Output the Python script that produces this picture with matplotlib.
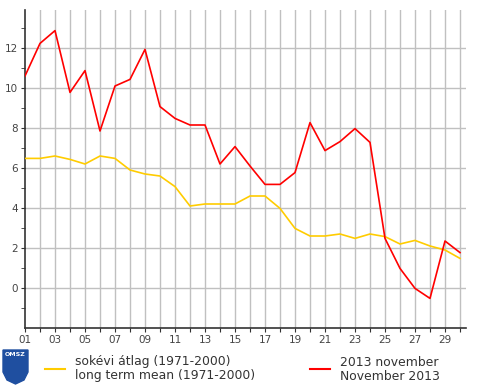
import matplotlib
matplotlib.use('Agg')
import matplotlib.pyplot as plt
from matplotlib.patches import Polygon
import numpy as np

days = list(range(1, 31))
day_labels = ['%02d' % d for d in days]

# 2013 november daily values
nov_2013 = [10.6, 12.23, 12.87, 9.78, 10.87, 7.85, 10.1, 10.43, 11.93, 9.07,
            8.48, 8.15, 8.15, 6.2, 7.07, 6.1, 5.18, 5.18, 5.77, 8.27,
            6.87, 7.32, 7.97, 7.28, 2.48, 0.98, -0.02, -0.52, 2.35, 1.77]
# long term mean 1971-2000
mean_7100 = [6.48, 6.48, 6.6, 6.43, 6.2, 6.6, 6.48, 5.9, 5.7, 5.6,
             5.07, 4.1, 4.2, 4.2, 4.2, 4.6, 4.6, 3.98, 2.98, 2.6,
             2.6, 2.7, 2.48, 2.7, 2.57, 2.2, 2.38, 2.1, 1.9, 1.48]

W, H = 490, 388
fig = plt.figure(figsize=(W/100, H/100), dpi=100)
ax = fig.add_axes([25/W, 1-328/H, (466-25)/W, (328-10)/H])

grid_c = '#c0c0c0'
ax.plot(days, mean_7100, color='#ffcc00', linewidth=1.2, zorder=3)
ax.plot(days, nov_2013, color='#ff0000', linewidth=1.2, zorder=4)

ax.set_xlim(1, 30.4)
ax.set_ylim(-2, 13.9)

ax.set_xticks(days)
ax.set_xticklabels([l if d % 2 == 1 else '' for d, l in zip(days, day_labels)])
ax.set_yticks([0, 2, 4, 6, 8, 10, 12])
ax.set_yticks(np.arange(-1, 14, 2), minor=True)

for d in days[1:]:
    ax.axvline(d, color=grid_c, linewidth=1, zorder=1)
for v in [0, 2, 4, 6, 8, 10, 12]:
    ax.axhline(v, color=grid_c, linewidth=1, zorder=1)

for s in ['top', 'right']:
    ax.spines[s].set_visible(False)
for s in ['left', 'bottom']:
    ax.spines[s].set_color('#333333')
    ax.spines[s].set_linewidth(1.2)

ax.tick_params(axis='both', which='both', direction='out', length=3,
               color='#333333', labelsize=7.5, labelcolor='#444444', pad=2)

# logo (shield, pixel coords from the top-left)
pts = [[3, 350], [28, 350], [28, 372], [24, 380], [15.5, 384], [7, 380], [3, 372]]
shield = Polygon([[x/W, 1-y/H] for x, y in pts], closed=True,
                 transform=fig.transFigure, facecolor='#1f4fa0',
                 edgecolor='#1f4fa0')
fig.patches.append(shield)
fig.text(15.5/W, 1-355/H, 'OMSZ', color='white', fontsize=4.5,
         fontweight='bold', ha='center', va='center')

# legend
fig.lines.append(plt.Line2D([45/W, 65/W], [1-369/H, 1-369/H], color='#ffcc00',
                            linewidth=1.5, transform=fig.transFigure))
fig.text(75/W, 1-362/H, 'sokévi átlag (1971-2000)', fontsize=8.9,
         color='#333333', va='center')
fig.text(75/W, 1-376/H, 'long term mean (1971-2000)', fontsize=8.9,
         color='#333333', va='center')
fig.lines.append(plt.Line2D([310/W, 330/W], [1-369/H, 1-369/H], color='#ff0000',
                            linewidth=1.5, transform=fig.transFigure))
fig.text(340/W, 1-362/H, '2013 november', fontsize=8.9,
         color='#333333', va='center')
fig.text(340/W, 1-376/H, 'November 2013', fontsize=8.9,
         color='#333333', va='center')

fig.savefig('out.png', dpi=100)
